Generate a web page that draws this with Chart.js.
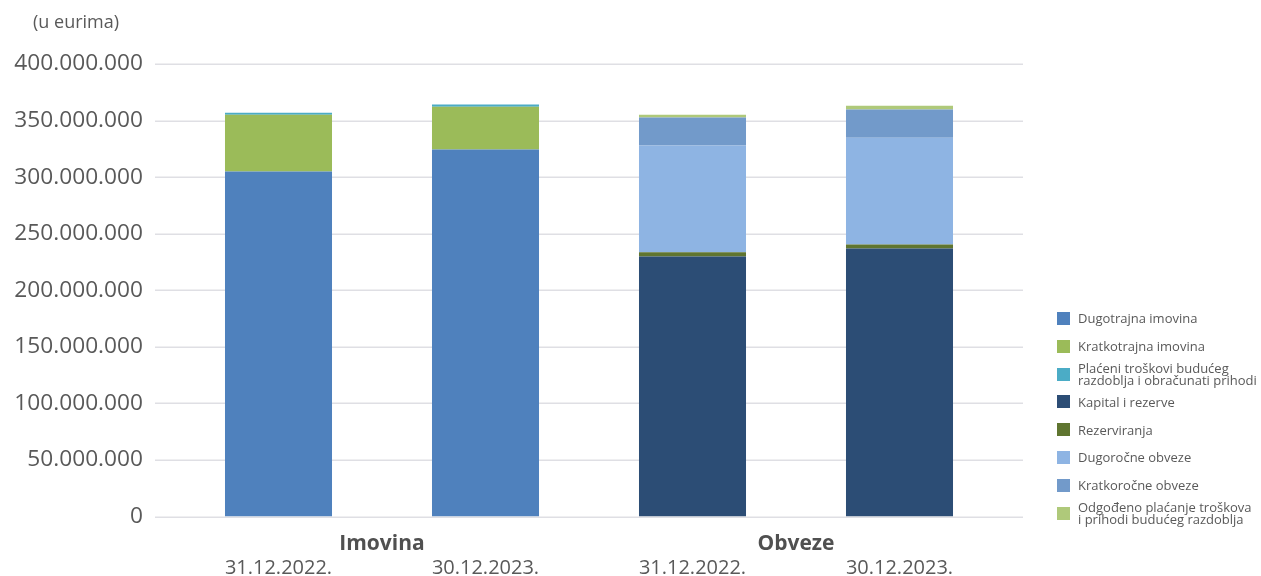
<!DOCTYPE html>
<html>
<head>
<meta charset="utf-8">
<script src="https://cdn.jsdelivr.net/npm/chart.js@4.4.1/dist/chart.umd.min.js"></script>
<style>
body { margin: 0; background: #fff; font-family: "Open Sans", sans-serif; }
#wrap { position: relative; width: 1261px; height: 576px; }
#legend { position: absolute; left: 1057px; top: 304.3px; list-style: none; margin: 0; padding: 0; }
#legend li { display: flex; align-items: center; height: 27.9px; font-size: 13px; line-height: 12.5px; color: #595959; white-space: pre-line; }
#legend .box { width: 13px; height: 13px; margin-right: 8px; flex: none; }
</style>
</head>
<body>
<div id="wrap">
  <canvas id="canvas"></canvas>
  <ul id="legend"></ul>
</div>
<script>
// x categories and group labels
var categories = ['31.12.2022.', '30.12.2023.', '31.12.2022.', '30.12.2023.'];
var groups = ['Imovina', 'Obveze'];

// Imovina (assets)
var dugotrajnaImovina = [305000000, 324400000, null, null];
var kratkotrajnaImovina = [50200000, 37900000, null, null];
var placeniTroskovi = [1800000, 1800000, null, null];

// Obveze (liabilities)
var kapitalRezerve = [null, null, 229900000, 237000000];
var rezerviranja = [null, null, 3600000, 3500000];
var dugorocneObveze = [null, null, 94400000, 94400000];
var kratkorocneObveze = [null, null, 24700000, 24800000];
var odgodenoPlacanje = [null, null, 2600000, 3500000];

var yTicks = { min: 0, max: 400000000, step: 50000000 };

var fmt = function(v){
    return String(v).replace(/\B(?=(\d{3})+(?!\d))/g, '.');
};

// y grid lines run 20px past the category band on both sides
var gridPlugin = {
    id: 'extGrid',
    beforeDatasetsDraw: function(chart){
        var ctx = chart.ctx, y = chart.scales.y, a = chart.chartArea;
        ctx.save();
        ctx.strokeStyle = '#dfdfe4';
        ctx.lineWidth = 1.5;
        y.ticks.forEach(function(t){
            var py = Math.round(y.getPixelForValue(t.value)) + 0.25;
            ctx.beginPath();
            ctx.moveTo(a.left - 20, py);
            ctx.lineTo(a.right + 20, py);
            ctx.stroke();
        });
        ctx.restore();
    }
};

var unitPlugin = {
    id: 'unitLabel',
    afterDraw: function(chart){
        var ctx = chart.ctx;
        ctx.save();
        ctx.font = '18px "Open Sans"';
        ctx.fillStyle = '#595959';
        ctx.textBaseline = 'middle';
        ctx.fillText('(u eurima)', 33, 23);
        ctx.restore();
    }
};

var datasets = [
    { label: 'Dugotrajna imovina', data: dugotrajnaImovina, backgroundColor: '#4f81bd' },
    { label: 'Kratkotrajna imovina', data: kratkotrajnaImovina, backgroundColor: '#9bbb59' },
    { label: 'Plaćeni troškovi budućeg\nrazdoblja i obračunati prihodi', data: placeniTroskovi, backgroundColor: '#4bacc6' },
    { label: 'Kapital i rezerve', data: kapitalRezerve, backgroundColor: '#2c4d75' },
    { label: 'Rezerviranja', data: rezerviranja, backgroundColor: '#5f7530' },
    { label: 'Dugoročne obveze', data: dugorocneObveze, backgroundColor: '#8eb4e3' },
    { label: 'Kratkoročne obveze', data: kratkorocneObveze, backgroundColor: '#729aca' },
    { label: 'Odgođeno plaćanje troškova\ni prihodi budućeg razdoblja', data: odgodenoPlacanje, backgroundColor: '#afc97a' }
];
datasets.forEach(function(d){
    d.barPercentage = 0.517;
    d.categoryPercentage = 1;
    d.borderWidth = 0;
});

var ctx = document.getElementById('canvas').getContext('2d');
var chart = new Chart(ctx, {
    type: 'bar',
    data: { labels: categories, datasets: datasets },
    options: {
        responsive: true,
        maintainAspectRatio: false,
        animation: false,
        layout: { padding: { top: 64, right: 258, bottom: 0, left: 0 } },
        plugins: {
            legend: { display: false },
            tooltip: { enabled: false }
        },
        scales: {
            x: {
                stacked: true,
                weight: 1,
                grid: { display: false, drawTicks: false },
                border: { display: false },
                ticks: { color: '#595959', padding: 2, font: { family: 'Open Sans', size: 20 } },
                afterFit: function(s){ s.height = 21.5; }
            },
            xGroup: {
                type: 'category',
                position: 'bottom',
                labels: groups,
                offset: true,
                weight: 0,
                grid: { display: false, drawTicks: false },
                border: { display: false },
                ticks: { color: '#505050', padding: 14.5, font: { family: 'Open Sans', size: 21, weight: 'bold' } },
                afterFit: function(s){ s.height = 38; }
            },
            y: {
                stacked: true,
                min: yTicks.min,
                max: yTicks.max,
                grid: { display: false, drawTicks: false },
                border: { display: false },
                ticks: {
                    stepSize: yTicks.step,
                    color: '#595959',
                    padding: 32,
                    font: { family: 'Open Sans', size: 22.7 },
                    callback: function(v){ return fmt(v); }
                },
                afterFit: function(s){ s.width = 175; }
            }
        }
    },
    plugins: [gridPlugin, unitPlugin]
});

// legend list built from the datasets
var legend = document.getElementById('legend');
chart.data.datasets.forEach(function(d){
    var li = document.createElement('li');
    var box = document.createElement('span');
    box.className = 'box';
    box.style.background = d.backgroundColor;
    var txt = document.createElement('span');
    txt.textContent = d.label;
    li.appendChild(box);
    li.appendChild(txt);
    legend.appendChild(li);
});
</script>
</body>
</html>
